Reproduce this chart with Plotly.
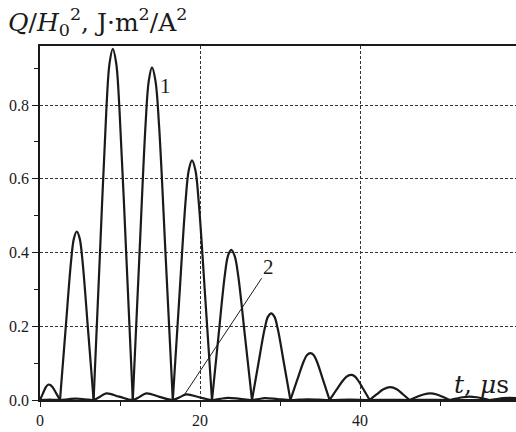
import plotly.graph_objects as go

# Curve 1: Q/H0^2 (J·m^2/A^2) vs t (µs)
t1 = [0, 0.37, 0.73, 0.92, 1.1, 1.33, 1.57, 2.03,
      2.5, 3.2, 3.9, 4.25, 4.6, 4.95, 5.3, 6.0,
      6.7, 7.5, 8.3, 8.7, 9.1, 9.52, 9.93, 10.77,
      11.6, 12.4, 13.2, 13.6, 14.0, 14.43, 14.87, 15.73,
      16.6, 17.4, 18.2, 18.6, 19.0, 19.42, 19.83, 20.67,
      21.5, 22.3, 23.1, 23.5, 23.9, 24.33, 24.77, 25.63,
      26.5, 27.3, 28.1, 28.5, 28.9, 29.3, 29.7, 30.5,
      31.3, 32.13, 32.97, 33.38, 33.8, 34.2, 34.6, 35.4,
      36.2, 37.1, 38.0, 38.45, 38.9, 39.28, 39.67, 40.43,
      41.2, 42.07, 42.93, 43.8, 44.6, 45.4,
      46.2, 47.07, 47.93, 48.8, 49.6, 50.4,
      51.2, 52.03, 52.87, 53.7, 54.53, 55.37,
      56.2, 57.03, 57.87, 58.7, 59.5, 60.3, 61.0]
q1 = [0, 0.018, 0.035, 0.040, 0.042, 0.040, 0.035, 0.018,
      0, 0.192, 0.380, 0.439, 0.457, 0.439, 0.380, 0.192,
      0, 0.400, 0.790, 0.914, 0.952, 0.914, 0.790, 0.400,
      0, 0.379, 0.749, 0.866, 0.902, 0.866, 0.749, 0.379,
      0, 0.273, 0.540, 0.624, 0.650, 0.624, 0.540, 0.273,
      0, 0.171, 0.338, 0.391, 0.407, 0.391, 0.338, 0.171,
      0, 0.099, 0.195, 0.226, 0.235, 0.226, 0.195, 0.099,
      0, 0.053, 0.105, 0.122, 0.127, 0.122, 0.105, 0.053,
      0, 0.029, 0.056, 0.065, 0.068, 0.065, 0.056, 0.029,
      0, 0.015, 0.029, 0.035, 0.029, 0.015,
      0, 0.008, 0.015, 0.018, 0.015, 0.008,
      0, 0.004, 0.0075, 0.009, 0.0075, 0.004,
      0, 0.0025, 0.005, 0.006, 0.005, 0.0025, 0]

# Curve 2
t2 = [0, 0.6, 1.2, 1.85,
      2.5, 3.5, 4.5, 5.65,
      6.7, 7.5, 8.3, 9.9,
      11.6, 12.45, 13.3, 14.95,
      16.6, 17.45, 18.3, 19.9,
      21.5, 22.5, 23.5, 25.0,
      26.5, 27.3, 28.1, 29.7,
      31.3, 32.4, 33.5, 34.85,
      36.2, 38.7, 41.2, 43.7, 46.2, 48.7, 51.2, 61.0]
q2 = [0, 0.0005, 0.001, 0.0005,
      0, 0.002, 0.004, 0.002,
      0, 0.009, 0.018, 0.009,
      0, 0.0085, 0.018, 0.0085,
      0, 0.0075, 0.015, 0.0075,
      0, 0.003, 0.006, 0.003,
      0, 0.0025, 0.005, 0.0025,
      0, 0.001, 0.002, 0.001,
      0, 0.001, 0, 0.0005, 0, 0.0003, 0, 0]

x_ticks = [0, 20, 40]
x_tick_labels = ["0", "20", "40"]
y_ticks = [0.0, 0.2, 0.4, 0.6, 0.8]
y_tick_labels = ["0.0", "0.2", "0.4", "0.6", "0.8"]

FONT = "Liberation Serif, serif"
FONT_BIG = "DejaVu Serif, serif"
INK = "#1a1a1a"


def split_lobes(ts, qs):
    """Break the line at each interior zero so every lobe meets the axis in a sharp V."""
    xs, ys = [], []
    for i, (t, q) in enumerate(zip(ts, qs)):
        xs.append(t)
        ys.append(q)
        if q == 0 and 0 < i < len(ts) - 1:
            xs.extend([None, t])
            ys.extend([None, q])
    return xs, ys


x1, y1 = split_lobes(t1, q1)

fig = go.Figure()
fig.add_trace(go.Scatter(x=x1, y=y1, mode="lines", connectgaps=False,
                         line=dict(color=INK, width=2.2, shape="spline", smoothing=1.0),
                         showlegend=False, hoverinfo="skip"))
fig.add_trace(go.Scatter(x=t2, y=q2, mode="lines",
                         line=dict(color=INK, width=2.2, shape="spline", smoothing=1.0),
                         showlegend=False, hoverinfo="skip"))

# leader line for label "2"
fig.add_shape(type="line", xref="x", yref="y", x0=18.1, y0=0.016, x1=27.7, y1=0.330,
              line=dict(color=INK, width=1))

fig.add_annotation(x=15.7, y=0.852, xref="x", yref="y", text="1", showarrow=False,
                   font=dict(family=FONT, size=21, color=INK))
fig.add_annotation(x=28.6, y=0.360, xref="x", yref="y", text="2", showarrow=False,
                   font=dict(family=FONT, size=21, color=INK))
fig.add_annotation(x=0.99, y=0.045, xref="paper", yref="paper", xanchor="right",
                   yanchor="middle", text="<i>t</i>, <i>μ</i>s", showarrow=False,
                   font=dict(family=FONT_BIG, size=25, color=INK))

fig.update_layout(
    width=516, height=432,
    margin=dict(l=40, r=0, t=46, b=32),
    paper_bgcolor="white", plot_bgcolor="white",
    title=dict(text="<i>Q</i>/<i>H</i><sub>0</sub><sup>2</sup>, J·m<sup>2</sup>/A<sup>2</sup>",
               x=8 / 516, xanchor="left", xref="container",
               y=1 - 22 / 432, yanchor="middle", yref="container",
               font=dict(family=FONT_BIG, size=25, color=INK)),
    xaxis=dict(range=[0, 59.5], tickvals=x_ticks, ticktext=x_tick_labels,
               ticks="outside", ticklen=5, tickwidth=1, tickcolor=INK,
               showline=True, linecolor=INK, linewidth=1.5, mirror=True,
               showgrid=True, gridcolor="#333", gridwidth=1, griddash="3px,2px",
               zeroline=False,
               minor=dict(tickvals=[10, 30, 50], ticks="outside", ticklen=4,
                          tickcolor=INK, showgrid=False),
               tickfont=dict(family=FONT, size=16, color=INK)),
    yaxis=dict(range=[0, 0.96], tickvals=y_ticks, ticktext=y_tick_labels,
               ticks="outside", ticklen=6, tickwidth=1, tickcolor=INK,
               showline=True, linecolor=INK, linewidth=1.5,
               showgrid=True, gridcolor="#333", gridwidth=1, griddash="3px,2px",
               zeroline=False,
               minor=dict(tickvals=[0.1, 0.3, 0.5, 0.7, 0.9], ticks="outside", ticklen=4,
                          tickcolor=INK, showgrid=False),
               tickfont=dict(family=FONT, size=16, color=INK)),
)

fig.write_html("out.html", config={"displayModeBar": False},
               post_script="document.body.style.margin='0';document.body.style.overflow='hidden';")
